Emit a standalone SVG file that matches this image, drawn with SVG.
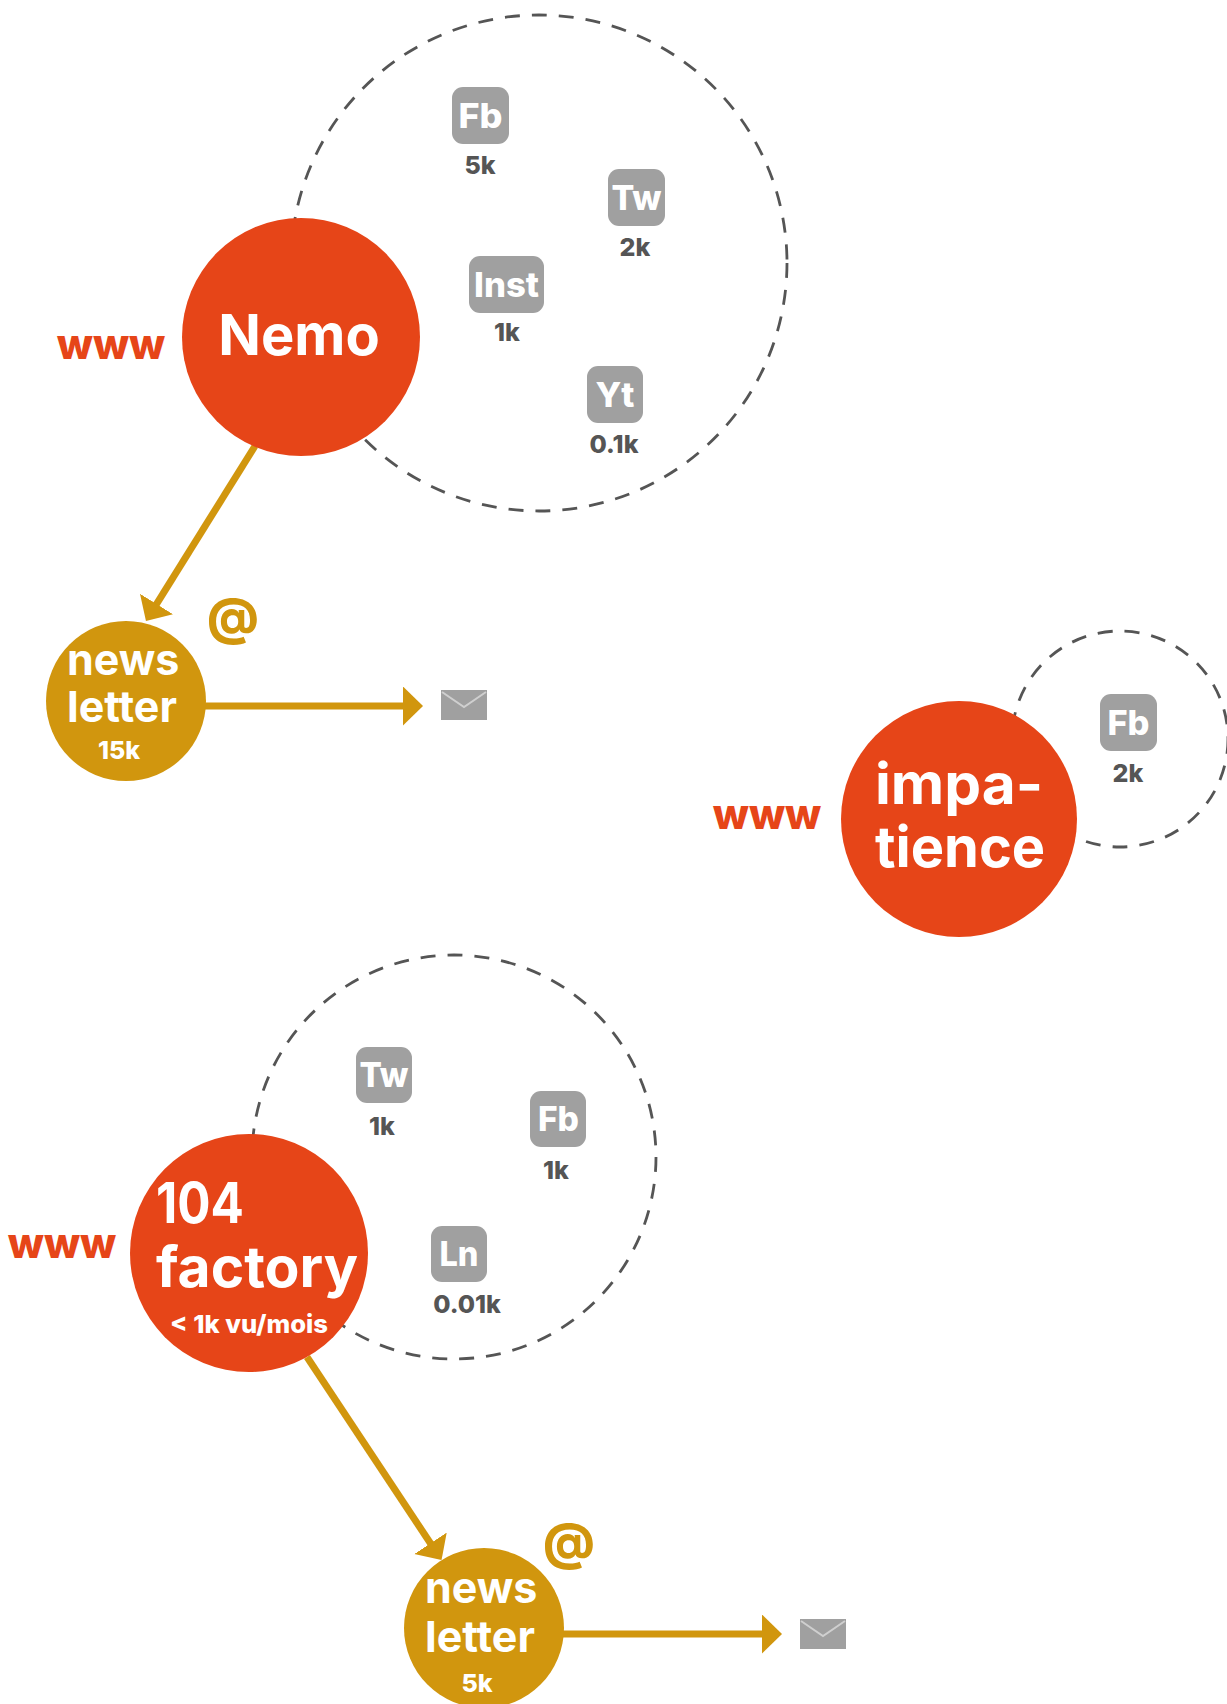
<svg xmlns="http://www.w3.org/2000/svg" width="1227" height="1704" viewBox="0 0 1227 1704">
<defs>
<style>
.main{fill:#E64518}
.nl{fill:#D1960E}
.ring{fill:none;stroke:#555;stroke-width:2.8;stroke-dasharray:15 12}
.icon{fill:#A0A0A0}
.it{fill:#fff;font-family:Inter,"Open Sans",sans-serif;font-weight:800;font-size:34px;text-anchor:middle}
.cnt{fill:#555;font-family:Inter,"Open Sans",sans-serif;font-weight:800;font-size:25px;text-anchor:middle}
.big{fill:#fff;font-family:Inter,"Open Sans",sans-serif;font-weight:700;font-size:56px}
.www{fill:#E64518;font-family:Inter,"Open Sans",sans-serif;font-weight:800;font-size:42px;text-anchor:middle}
.nlt{fill:#fff;font-family:Inter,"Open Sans",sans-serif;font-weight:700;font-size:43px}
.nls{fill:#fff;font-family:Inter,"Open Sans",sans-serif;font-weight:800;font-size:25px;text-anchor:middle}
.at{fill:#D1960E;font-family:Inter,"Open Sans",sans-serif;font-weight:800;font-size:50px;text-anchor:middle}
.link{stroke:#D1960E;stroke-width:7;fill:none;marker-end:url(#ah)}
.env{fill:#A0A0A0}
.envl{fill:none;stroke:#CFCFCF;stroke-width:2}
</style>
<marker id="ah" markerUnits="userSpaceOnUse" markerWidth="22" markerHeight="40" refX="8" refY="19.5" orient="auto">
<path d="M0,0 L20,19.5 L0,39 Z" fill="#D1960E"/>
</marker>
</defs>

<g id="nemo-ring"><circle class="ring" cx="539" cy="263" r="248"/></g>
<g id="impatience-ring"><circle class="ring" cx="1120" cy="739" r="108"/></g>
<g id="factory-ring"><circle class="ring" cx="454" cy="1157" r="202"/></g>

<g id="connectors">
<line class="link" x1="255" y1="446" x2="152.3" y2="610.8"/>
<line class="link" x1="205" y1="706" x2="411" y2="706"/>
<line class="link" x1="307" y1="1357" x2="434.9" y2="1550"/>
<line class="link" x1="563" y1="1634" x2="770" y2="1634"/>
</g>

<g id="nemo">
<circle class="main" cx="301" cy="337" r="119"/>
<text class="big" x="299" y="355" text-anchor="middle" font-size="54">Nemo</text>
<text class="www" x="111" y="359">www</text>
</g>

<g id="nemo-fb"><rect class="icon" x="452" y="87" width="57" height="57" rx="11"/><text class="it" x="480.5" y="128" textLength="44" lengthAdjust="spacingAndGlyphs">Fb</text><text class="cnt" x="480" y="174">5k</text></g>
<g id="nemo-tw"><rect class="icon" x="608" y="169" width="57" height="57" rx="11"/><text class="it" x="636.5" y="210" textLength="50" lengthAdjust="spacingAndGlyphs">Tw</text><text class="cnt" x="635" y="256">2k</text></g>
<g id="nemo-inst"><rect class="icon" x="469" y="256" width="75" height="57" rx="11"/><text class="it" x="506.5" y="297" textLength="65" lengthAdjust="spacingAndGlyphs">Inst</text><text class="cnt" x="507" y="341">1k</text></g>
<g id="nemo-yt"><rect class="icon" x="587" y="366" width="56" height="57" rx="11"/><text class="it" x="615" y="407" textLength="39" lengthAdjust="spacingAndGlyphs">Yt</text><text class="cnt" x="614" y="453">0.1k</text></g>

<g id="newsletter-nemo">
<circle class="nl" cx="126" cy="701" r="80"/>
<text class="nlt" x="67" y="675">news</text>
<text class="nlt" x="67" y="722">letter</text>
<text class="nls" x="119" y="759">15k</text>
<text class="at" x="233" y="634">@</text>
</g>
<g id="mail-nemo"><rect class="env" x="441" y="690" width="46" height="30"/><path class="envl" d="M442,692 L464,707 L486,692"/></g>

<g id="impatience">
<circle class="main" cx="959" cy="819" r="118"/>
<text class="big" x="875" y="804" textLength="168" lengthAdjust="spacingAndGlyphs">impa-</text>
<text class="big" x="875" y="867">tience</text>
<text class="www" x="767" y="829">www</text>
</g>
<g id="impatience-fb"><rect class="icon" x="1100" y="694" width="57" height="57" rx="11"/><text class="it" x="1128.5" y="735" textLength="42" lengthAdjust="spacingAndGlyphs">Fb</text><text class="cnt" x="1128" y="782">2k</text></g>

<g id="factory">
<circle class="main" cx="249" cy="1253" r="119"/>
<text class="big" x="156" y="1223" font-size="54" textLength="88" lengthAdjust="spacingAndGlyphs">104</text>
<text class="big" x="156" y="1287" textLength="202" lengthAdjust="spacingAndGlyphs">factory</text>
<text class="nls" x="249" y="1333" textLength="158" lengthAdjust="spacingAndGlyphs">&lt; 1k vu/mois</text>
<text class="www" x="62" y="1258">www</text>
</g>
<g id="factory-tw"><rect class="icon" x="356" y="1047" width="56" height="56" rx="11"/><text class="it" x="384" y="1087" textLength="49" lengthAdjust="spacingAndGlyphs">Tw</text><text class="cnt" x="382" y="1135">1k</text></g>
<g id="factory-fb"><rect class="icon" x="530" y="1091" width="56" height="56" rx="11"/><text class="it" x="558.5" y="1131" textLength="41" lengthAdjust="spacingAndGlyphs">Fb</text><text class="cnt" x="556" y="1179">1k</text></g>
<g id="factory-ln"><rect class="icon" x="431" y="1226" width="56" height="56" rx="11"/><text class="it" x="459" y="1266" textLength="39" lengthAdjust="spacingAndGlyphs">Ln</text><text class="cnt" x="467" y="1313">0.01k</text></g>

<g id="newsletter-factory">
<circle class="nl" cx="484" cy="1628" r="80"/>
<text class="nlt" x="425" y="1603">news</text>
<text class="nlt" x="425" y="1652">letter</text>
<text class="nls" x="477" y="1692">5k</text>
<text class="at" x="569" y="1559">@</text>
</g>
<g id="mail-factory"><rect class="env" x="800" y="1619" width="46" height="30"/><path class="envl" d="M801,1621 L823,1636 L845,1621"/></g>
</svg>
